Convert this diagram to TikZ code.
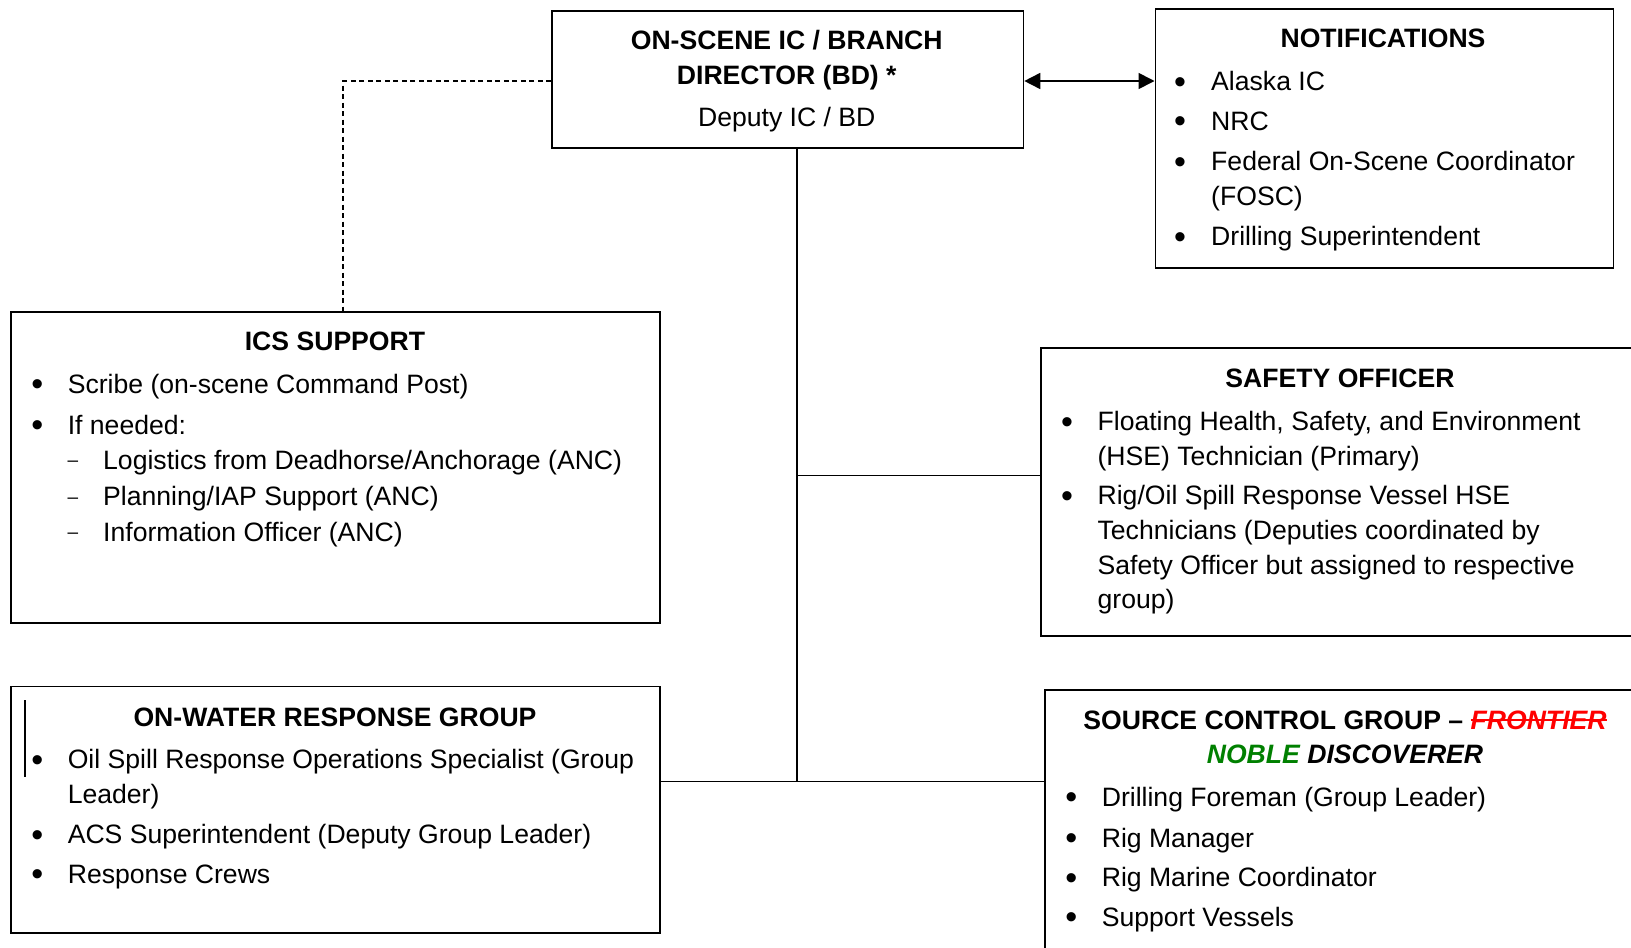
\documentclass[tikz,border=0pt]{standalone}
\usepackage{fontspec}
\setmainfont{Liberation Sans}
\usetikzlibrary{arrows.meta}
\definecolor{ndgreen}{RGB}{0,128,0}
\definecolor{ndred}{RGB}{255,0,0}
\newcommand\txtsz{\fontsize{26.6}{34.5}\selectfont}
\newcommand\mystrike[1]{\setbox0\hbox{#1}\rlap{\rule[8.5pt]{\wd0}{1.6pt}}\box0}
\newcommand\bitem[5]{\node[bul] (#1b) at (#2,#4) {\raisebox{-2.5pt}{\textbullet}}; \node[txt] (#1) at (#3,#4) {#5};}
\newcommand\ditem[5]{\node[dsh] (#1b) at (#2,#4) {\raisebox{2.5pt}{–}}; \node[txt] (#1) at (#3,#4) {#5};}
\begin{document}
\begin{tikzpicture}[x=1pt,y=-1pt,
  box/.style={draw, line width=1.8pt, inner sep=0pt, anchor=north west},
  conn/.style={line width=1.7pt},
  txt/.style={inner sep=0pt, anchor=base west, font=\txtsz},
  head/.style={inner sep=0pt, anchor=base, font=\txtsz\bfseries},
  bul/.style={inner sep=0pt, anchor=base, font=\fontsize{34}{34}\selectfont},
  dsh/.style={inner sep=0pt, anchor=base, font=\fontsize{19}{19}\selectfont}]
\clip (0,0) rectangle (1631,948);
\fill[white] (0,0) rectangle (1631,948);
% boxes
\node[box, minimum width=471.5pt, minimum height=136.7pt] (ic) at (551,10) {};
\node[box, minimum width=458pt, minimum height=259pt] (notif) at (1154.5,8.3) {};
\node[box, minimum width=648.6pt, minimum height=310.5pt] (ics) at (10.4,311.3) {};
\node[box, minimum width=620pt, minimum height=287.5pt] (safety) at (1040,347.3) {};
\node[box, minimum width=620pt, minimum height=290pt] (source) at (1044.4,689) {};
\node[box, minimum width=648.6pt, minimum height=246.5pt] (water) at (10.4,685.5) {};
% connectors
\coordinate (j1) at (797,475.5);
\coordinate (j2) at (797,781.5);
\coordinate (d1) at (343,81);
\draw[conn] (ic.south -| j2) -- (j2);
\draw[conn] (j1) -- (j1 -| safety.west);
\draw[conn] (water.east |- j2) -- (j2 -| source.west);
\draw[line width=1.3pt, dash pattern=on 5pt off 3.5pt] (ic.west |- d1) -- (d1) -- (d1 |- ics.north);
\draw[conn, {Triangle[length=16pt,width=16pt]}-{Triangle[length=16pt,width=16pt]}] (ic.east |- d1) -- (notif.west |- d1);
\draw[line width=1.5pt] (25,700) -- (25,777);
% top box
\node[head] (ict1) at (786.75,49) {ON-SCENE IC / BRANCH};
\node[head] (ict2) at (786.75,84.5) {DIRECTOR (BD) *};
\node[txt, anchor=base] (ict3) at (786.75,126) {Deputy IC / BD};
% notifications
\node[head] (nt0) at (1383,47) {NOTIFICATIONS};
\bitem{nt1}{1180}{1211}{90.7}{Alaska IC}
\bitem{nt2}{1180}{1211}{130.2}{NRC}
\bitem{nt3}{1180}{1211}{170.8}{Federal On-Scene Coordinator}
\node[txt] (nt3b2) at (1211,205.1) {(FOSC)};
\bitem{nt4}{1180}{1211}{245.7}{Drilling Superintendent}
% ICS support
\node[head] (is0) at (335,350.8) {ICS SUPPORT};
\bitem{is1}{37.4}{67.6}{393.4}{Scribe (on-scene Command Post)}
\bitem{is2}{37.4}{67.6}{434}{If needed:}
\ditem{is3}{72.8}{103}{469.3}{Logistics from Deadhorse/Anchorage (ANC)}
\ditem{is4}{72.8}{103}{505.8}{Planning/IAP Support (ANC)}
\ditem{is5}{72.8}{103}{541.1}{Information Officer (ANC)}
% safety officer
\node[head] (so0) at (1340,387.2) {SAFETY OFFICER};
\bitem{so1}{1067}{1097.4}{430.9}{Floating Health, Safety, and Environment}
\node[txt] (so1l2) at (1097.4,465.2) {(HSE) Technician (Primary)};
\bitem{so2}{1067}{1097.4}{504.7}{Rig/Oil Spill Response Vessel HSE}
\node[txt] (so2l2) at (1097.4,539) {Technicians (Deputies coordinated by};
\node[txt] (so2l3) at (1097.4,574.4) {Safety Officer but assigned to respective};
\node[txt] (so2l4) at (1097.4,608.7) {group)};
% source control
\node[head] (sc0) at (1345,729.4) {SOURCE CONTROL GROUP – \textcolor{ndred}{\itshape\mystrike{FRONTIER}}};
\node[head] (sc0b) at (1345,763.7) {\itshape\textcolor{ndgreen}{NOBLE} DISCOVERER};
\bitem{sc1}{1071.4}{1101.6}{806.4}{Drilling Foreman (Group Leader)}
\bitem{sc2}{1071.4}{1101.6}{847}{Rig Manager}
\bitem{sc3}{1071.4}{1101.6}{886.5}{Rig Marine Coordinator}
\bitem{sc4}{1071.4}{1101.6}{926}{Support Vessels}
% on-water
\node[head] (ow0) at (335,726.3) {ON-WATER RESPONSE GROUP};
\bitem{ow1}{37.4}{67.6}{768.9}{Oil Spill Response Operations Specialist (Group}
\node[txt] (ow1l2) at (67.6,803.3) {Leader)};
\bitem{ow2}{37.4}{67.6}{843.8}{ACS Superintendent (Deputy Group Leader)}
\bitem{ow3}{37.4}{67.6}{883.4}{Response Crews}
\end{tikzpicture}
\end{document}
